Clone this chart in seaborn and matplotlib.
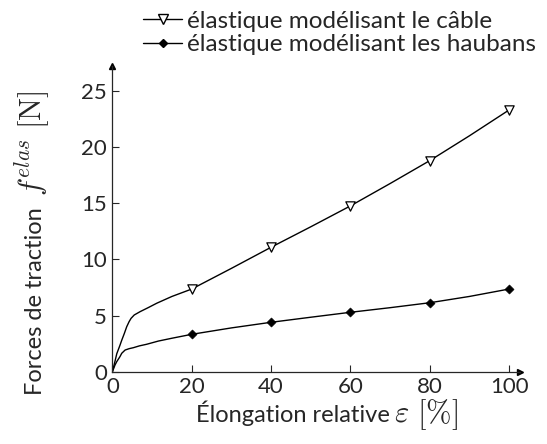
import numpy as np
import pandas as pd
import matplotlib
matplotlib.use("Agg")
import matplotlib.pyplot as plt
from matplotlib.lines import Line2D
import seaborn as sns

# curve points (elongation in %, force in N)
cable_x = [0, 0.7, 1.1, 1.9, 2.35, 3.0, 3.6, 4.2, 4.7, 5.5, 7.0, 9.0, 11.2, 15.0, 20, 30, 40, 50, 60, 70, 80, 90, 100]
cable_y = [0, 1.0, 1.6, 2.35, 2.8, 3.4, 4.0, 4.45, 4.75, 5.05, 5.35, 5.7, 6.1, 6.7, 7.36, 9.2, 11.08, 12.9, 14.76, 16.75, 18.79, 21.0, 23.3]
haub_x = [0, 0.66, 1.1, 1.9, 2.35, 3.2, 4.2, 5.3, 6.8, 8.6, 11.6, 15.0, 20, 30, 40, 50, 60, 70, 80, 90, 100]
haub_y = [0, 0.6, 0.9, 1.34, 1.64, 1.93, 2.05, 2.14, 2.3, 2.44, 2.73, 2.98, 3.33, 3.9, 4.40, 4.85, 5.29, 5.7, 6.14, 6.7, 7.36]

# marker positions
mark_x = [20, 40, 60, 80, 100]
cable_marks = [7.36, 11.08, 14.76, 18.79, 23.3]
haub_marks = [3.33, 4.40, 5.29, 6.14, 7.36]

labels = ["élastique modélisant le câble", "élastique modélisant les haubans"]

sns.set_style("ticks")
plt.rcParams['font.family'] = ['Lato', 'DejaVu Sans']
plt.rcParams['mathtext.fontset'] = 'cm'

fig = plt.figure(figsize=(5.47, 4.44), dpi=100)
ax = fig.add_axes([0.2055, 0.1628, 0.951 - 0.2055, 0.851 - 0.1628])

df_c = pd.DataFrame({'x': cable_x, 'y': cable_y})
df_h = pd.DataFrame({'x': haub_x, 'y': haub_y})
sns.lineplot(data=df_c, x='x', y='y', color='black', linewidth=1.0, ax=ax, legend=False)
sns.lineplot(data=df_h, x='x', y='y', color='black', linewidth=1.0, ax=ax, legend=False)

sns.scatterplot(x=mark_x, y=cable_marks, marker='v', s=45, facecolor='white',
                edgecolor='black', linewidth=0.9, ax=ax, zorder=5, legend=False)
sns.scatterplot(x=mark_x, y=haub_marks, marker='D', s=22, color='black',
                edgecolor='black', ax=ax, zorder=5, legend=False)

ax.set_xlim(0, 102.8)
ax.set_ylim(0, 27.2)
ax.set_xticks([0, 20, 40, 60, 80, 100])
ax.set_yticks([0, 5, 10, 15, 20, 25])
ax.tick_params(direction='in', length=5, width=0.8, labelsize=16)
ax.tick_params(axis='y', pad=4)
ax.tick_params(axis='x', pad=4)
for s in ['top', 'right']:
    ax.spines[s].set_visible(False)
for s in ['left', 'bottom']:
    ax.spines[s].set_linewidth(0.9)
ax.set_xlabel("")
ax.set_ylabel("")

# arrow heads on the axes
ax.plot(1, 0, ">k", markersize=4, transform=ax.get_yaxis_transform(), clip_on=False)
ax.plot(0, 1, "^k", markersize=4, transform=ax.get_xaxis_transform(), clip_on=False)

# axis titles: words in sans, math part in larger serif
fig.text(0.358, 0.05, "Élongation relative", fontsize=17, ha='left', va='baseline')
fig.text(0.72, 0.05, r"$\varepsilon\ [\%]$", fontsize=22, ha='left', va='baseline')
fig.text(0.0768, 0.11, "Forces de traction", fontsize=17, rotation=90,
         ha='left', va='baseline', rotation_mode='anchor')
fig.text(0.0768, 0.558, r"$f^{elas}\ [\mathrm{N}]$", fontsize=22, rotation=90,
         ha='left', va='baseline', rotation_mode='anchor')

handles = [
    Line2D([], [], color='black', lw=1.0, marker='v', markersize=7,
           markerfacecolor='white', markeredgecolor='black'),
    Line2D([], [], color='black', lw=1.0, marker='D', markersize=4.5,
           markerfacecolor='black'),
]
fig.legend(handles, labels, loc='upper right', bbox_to_anchor=(1.0, 1.0),
           frameon=False, fontsize=17.5, handlelength=1.6, handletextpad=0.2,
           labelspacing=0.1, borderaxespad=0.05)

fig.savefig("out.png", dpi=100)
